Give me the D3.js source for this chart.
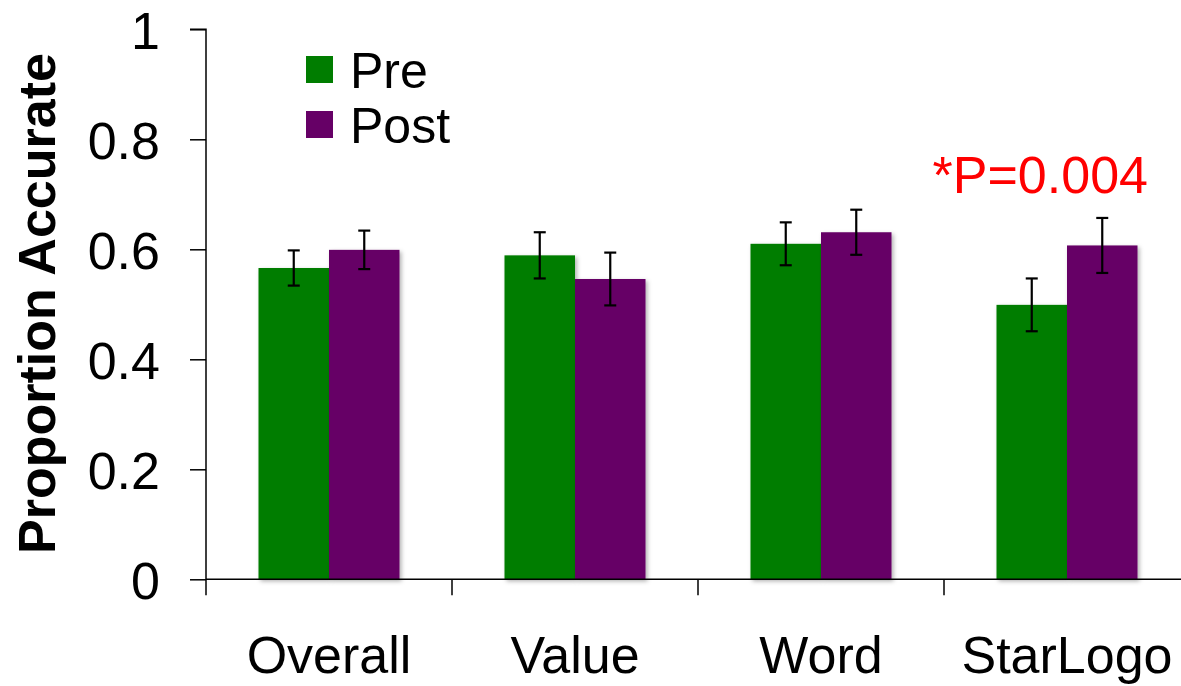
<!DOCTYPE html>
<html>
<head>
<meta charset="utf-8">
<script src="https://cdn.jsdelivr.net/npm/d3@7"></script>
<style>
  html, body { margin: 0; padding: 0; background: #ffffff; }
  svg { display: block; }
  text { font-family: "Liberation Sans", Arial, sans-serif; }
</style>
</head>
<body>
<svg id="chart" width="1181" height="686"></svg>
<script>
// Categories and series
const categories = ["Overall", "Value", "Word", "StarLogo"];
const seriesNames = ["Pre", "Post"];
const preValues  = [0.566, 0.589, 0.610, 0.499];
const postValues = [0.599, 0.546, 0.631, 0.607];
const preErrors  = [0.032, 0.042, 0.039, 0.048];
const postErrors = [0.035, 0.048, 0.041, 0.050];
const yTicks = [0, 0.2, 0.4, 0.6, 0.8, 1];
const yTickLabels = ["0", "0.2", "0.4", "0.6", "0.8", "1"];
const annotation = "*P=0.004";
const colors = ["#007d00", "#660066"];

const rows = categories.map((c, i) => ({
  category: c,
  values: [
    { series: seriesNames[0], value: preValues[i], err: preErrors[i] },
    { series: seriesNames[1], value: postValues[i], err: postErrors[i] }
  ]
}));

const svg = d3.select("#chart");
const plotLeft = 206, plotRight = 1190, plotTop = 29.3, plotBottom = 579.3;

const defs = svg.append("defs");
const f = defs.append("filter").attr("id", "shadow")
  .attr("x", "-10%").attr("y", "-10%").attr("width", "130%").attr("height", "130%");
f.append("feDropShadow").attr("dx", 2).attr("dy", 2)
  .attr("stdDeviation", 2).attr("flood-color", "#000").attr("flood-opacity", 0.3);

const pInner = 0.4268;
const x0 = d3.scaleBand().domain(categories).range([plotLeft, plotRight])
  .paddingInner(pInner).paddingOuter(pInner / 2);
const x1 = d3.scaleBand().domain(seriesNames).range([0, x0.bandwidth()]);
const y = d3.scaleLinear().domain([0, 1]).range([plotBottom, plotTop]);
const color = d3.scaleOrdinal().domain(seriesNames).range(colors);

// Bars
const groups = svg.append("g").selectAll("g").data(rows).join("g")
  .attr("transform", d => `translate(${x0(d.category)},0)`);

groups.selectAll("rect").data(d => d.values).join("rect")
  .attr("x", d => x1(d.series))
  .attr("y", d => y(d.value))
  .attr("width", x1.bandwidth())
  .attr("height", d => y(0) - y(d.value))
  .attr("fill", d => color(d.series))
  .attr("filter", "url(#shadow)");

// Error bars
const eb = groups.selectAll("g.err").data(d => d.values).join("g").attr("class", "err")
  .attr("stroke", "#000").attr("stroke-width", 2.2);
eb.append("line")
  .attr("x1", d => x1(d.series) + x1.bandwidth() / 2)
  .attr("x2", d => x1(d.series) + x1.bandwidth() / 2)
  .attr("y1", d => y(d.value + d.err))
  .attr("y2", d => y(d.value - d.err));
[1, -1].forEach(s => {
  eb.append("line")
    .attr("x1", d => x1(d.series) + x1.bandwidth() / 2 - 6)
    .attr("x2", d => x1(d.series) + x1.bandwidth() / 2 + 6)
    .attr("y1", d => y(d.value + s * d.err))
    .attr("y2", d => y(d.value + s * d.err));
});

// Y axis
const yAxis = d3.axisLeft(y).tickValues(yTicks)
  .tickFormat((d, i) => yTickLabels[i]).tickSize(16).tickPadding(30);
const gy = svg.append("g").attr("transform", `translate(${plotLeft},0)`).call(yAxis);
gy.select(".domain").attr("stroke", "#000").attr("stroke-width", 1.5)
  .attr("d", `M-16,${plotTop}H0V${plotBottom}`);
gy.selectAll(".tick line").attr("stroke", "#000").attr("stroke-width", 1.5);
gy.selectAll(".tick text").attr("font-size", 52).attr("fill", "#000")
  .attr("font-family", "Liberation Sans, Arial, sans-serif")
  .attr("dy", "0.36em");

// X axis with ticks at category boundaries
const boundaries = categories.map(c => x0(c) - x0.step() * pInner / 2)
  .concat([x0(categories[categories.length - 1]) + x0.bandwidth() + x0.step() * pInner / 2]);
const gx = svg.append("g");
gx.append("line").attr("x1", plotLeft).attr("x2", plotRight)
  .attr("y1", plotBottom).attr("y2", plotBottom)
  .attr("stroke", "#000").attr("stroke-width", 1.5);
gx.selectAll("line.tick").data(boundaries).join("line").attr("class", "tick")
  .attr("x1", d => d).attr("x2", d => d)
  .attr("y1", plotBottom).attr("y2", plotBottom + 16)
  .attr("stroke", "#000").attr("stroke-width", 1.5);
gx.selectAll("text").data(categories).join("text")
  .attr("x", d => x0(d) + x0.bandwidth() / 2)
  .attr("y", 673)
  .attr("text-anchor", "middle")
  .attr("font-size", 52)
  .attr("fill", "#000")
  .text(d => d);

// Y axis title
svg.append("text")
  .attr("transform", `translate(55,${(50 + 557) / 2}) rotate(-90)`)
  .attr("text-anchor", "middle")
  .attr("font-size", 52)
  .attr("font-weight", "bold")
  .attr("fill", "#000")
  .text("Proportion Accurate");

// Legend
const legend = svg.append("g").selectAll("g").data(seriesNames).join("g")
  .attr("transform", (d, i) => `translate(306,${56 + i * 55})`);
legend.append("rect").attr("width", 27).attr("height", 27)
  .attr("fill", d => color(d));
legend.append("text").attr("x", 44).attr("y", 32)
  .attr("font-size", 50).attr("fill", "#000").text(d => d);

// Significance note
svg.append("text")
  .attr("x", 1148).attr("y", 193)
  .attr("text-anchor", "end")
  .attr("font-size", 52)
  .attr("fill", "#ff0000")
  .text(annotation);
</script>
</body>
</html>
